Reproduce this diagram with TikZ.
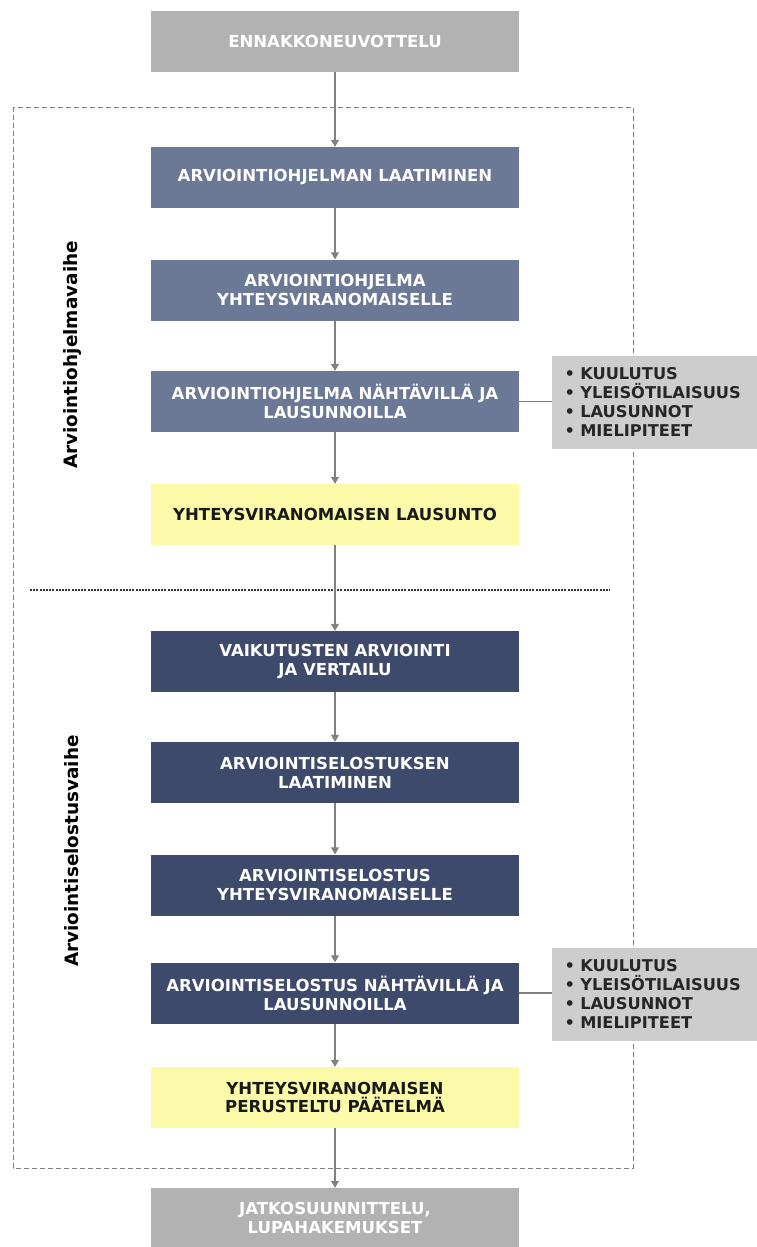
\documentclass[tikz,border=0pt]{standalone}
\usepackage{fontspec}
\setmainfont{DejaVu Sans}
\usetikzlibrary{arrows.meta}
\definecolor{greybox}{HTML}{B2B2B2}
\definecolor{slate}{HTML}{6B7896}
\definecolor{navy}{HTML}{3D4A6B}
\definecolor{lemon}{HTML}{FBFAA8}
\definecolor{sidegrey}{HTML}{CDCDCD}
\definecolor{linegrey}{HTML}{808080}
\begin{document}
\begin{tikzpicture}[x=1bp,y=-1bp,
    stage/.style={minimum width=368bp,minimum height=61bp,inner sep=0pt,align=center,
        font=\fontsize{16.6}{19}\selectfont\bfseries,text=white},
    outer/.style={stage,fill=greybox},
    prog/.style={stage,fill=slate},
    report/.style={stage,fill=navy},
    verdict/.style={stage,fill=lemon,text=black!90},
    sidebox/.style={fill=sidegrey,minimum width=205bp,minimum height=93bp,inner xsep=12.5bp,
        text width=180bp,align=left,font=\fontsize{16.3}{19}\selectfont\bfseries,text=black!85},
    phase/.style={rotate=90,font=\fontsize{18.5}{22}\selectfont\bfseries},
    arr/.style={-{Triangle[width=8bp,length=7bp]},linegrey,line width=1.1bp},
    link/.style={linegrey,line width=1.1bp}]
\useasboundingbox (0,0) rectangle (757,1247);

\draw[linegrey,dashed,dash pattern=on 5bp off 3bp,line width=0.8bp] (13,107) rectangle (633,1168);
\draw[black!80,dash pattern=on 2bp off 1.2bp,line width=1.2bp] (30,590) -- (610,590);

\node[outer] (top) at (335,41) {ENNAKKONEUVOTTELU};
\node[prog] (p1) at (335,177.5) {ARVIOINTIOHJELMAN LAATIMINEN};
\node[prog] (p2) at (335,290) {ARVIOINTIOHJELMA\\YHTEYSVIRANOMAISELLE};
\node[prog] (p3) at (335,401.5) {ARVIOINTIOHJELMA NÄHTÄVILLÄ JA\\LAUSUNNOILLA};
\node[verdict] (v1) at (335,514.5) {YHTEYSVIRANOMAISEN LAUSUNTO};
\node[report] (r1) at (335,661.5) {VAIKUTUSTEN ARVIOINTI\\JA VERTAILU};
\node[report] (r2) at (335,772.5) {ARVIOINTISELOSTUKSEN\\LAATIMINEN};
\node[report] (r3) at (335,885) {ARVIOINTISELOSTUS\\YHTEYSVIRANOMAISELLE};
\node[report] (r4) at (335,993) {ARVIOINTISELOSTUS NÄHTÄVILLÄ JA\\LAUSUNNOILLA};
\node[verdict] (v2) at (335,1097.5) {YHTEYSVIRANOMAISEN\\PERUSTELTU PÄÄTELMÄ};
\node[outer,minimum height=60bp] (end) at (335,1218) {JATKOSUUNNITTELU,\\LUPAHAKEMUKSET};

\node[sidebox] (s1) at (654.5,402) {• KUULUTUS\\• YLEISÖTILAISUUS\\• LAUSUNNOT\\• MIELIPITEET};
\node[sidebox] (s2) at (654.5,994) {• KUULUTUS\\• YLEISÖTILAISUUS\\• LAUSUNNOT\\• MIELIPITEET};

\node[phase] (ph1) at (72,355) {Arviointiohjelmavaihe};
\node[phase] (ph2) at (72,851) {Arviointiselostusvaihe};

\foreach \a/\b in {top/p1,p1/p2,p2/p3,p3/v1,v1/r1,r1/r2,r2/r3,r3/r4,r4/v2,v2/end}
    \draw[arr] (\a) -- (\b);
\draw[link] (p3.east) -- (p3.east -| s1.west);
\draw[link] (r4.east) -- (r4.east -| s2.west);
\end{tikzpicture}
\end{document}
